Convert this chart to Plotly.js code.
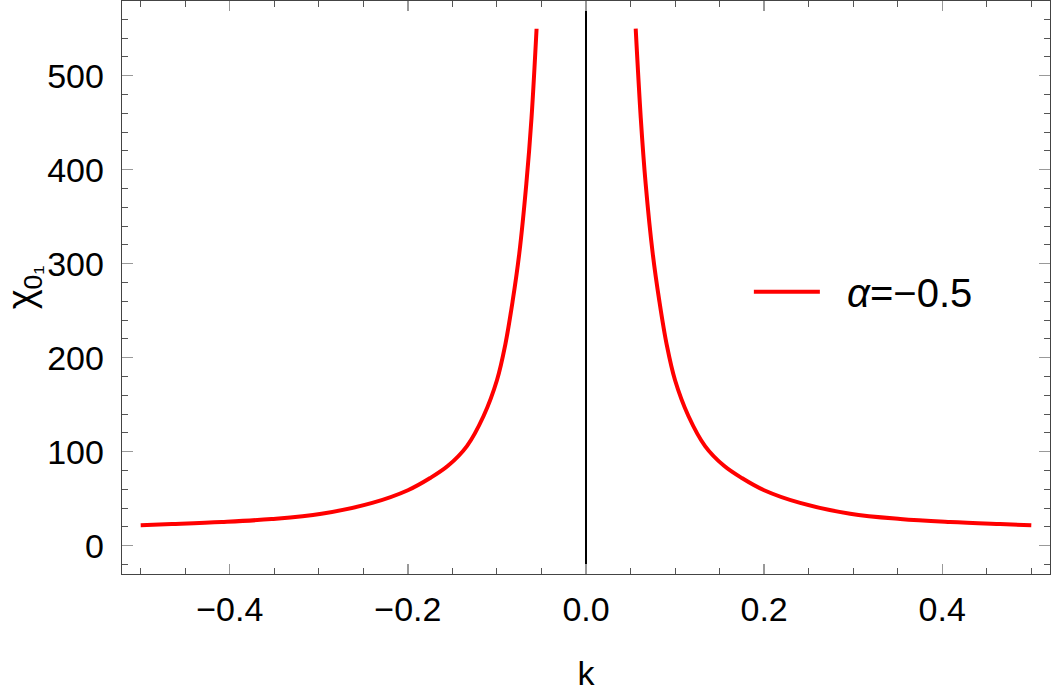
<!DOCTYPE html>
<html>
<head>
<meta charset="utf-8">
<script src="https://cdn.plot.ly/plotly-3.0.1.min.js"></script>
<style>
  html, body { margin: 0; padding: 0; background: #fff; }
  #chart { width: 1054px; height: 692px; }
</style>
</head>
<body>
<div id="chart"></div>
<script>
// values (the two branches are mirror images)
const kLeft = [-0.5, -0.465, -0.409, -0.353, -0.297, -0.24, -0.2, -0.175, -0.155, -0.1337, -0.115, -0.1, -0.0906, -0.0824, -0.0749, -0.067, -0.0612, -0.0555];
const chiLeft = [21.8, 23, 25.2, 28.4, 34, 45.5, 59, 72, 85, 106, 138, 176, 214, 260, 311, 385, 455, 550];

const kRight = [0.0558, 0.0615, 0.067, 0.0749, 0.0824, 0.0906, 0.1, 0.115, 0.1337, 0.155, 0.175, 0.2, 0.2404, 0.2966, 0.3528, 0.409, 0.465, 0.5];
const chiRight = [550, 455, 385, 311, 260, 214, 176, 138, 106, 85, 72, 59, 45.5, 34, 28.4, 25.2, 23, 21.8];

const seriesName = '\u00a0\u00a0<i>α</i>=−0.5';

const font = 'Liberation Sans, Arial, sans-serif';

const traces = [
  {
    x: kLeft, y: chiLeft, mode: 'lines', name: seriesName,
    line: { color: '#ff0000', width: 4, shape: 'spline', smoothing: 1 },
    legendgroup: 'a', showlegend: true
  },
  {
    x: kRight, y: chiRight, mode: 'lines', name: seriesName,
    line: { color: '#ff0000', width: 4, shape: 'spline', smoothing: 1 },
    legendgroup: 'a', showlegend: false
  }
];

const layout = {
  width: 1054,
  height: 692,
  margin: { l: 122, r: 4, t: 1, b: 118 },
  paper_bgcolor: '#fff',
  plot_bgcolor: '#fff',
  font: { family: font, color: '#000', size: 34 },
  showlegend: true,
  legend: {
    x: 0.6755, y: 0.4927, xanchor: 'left', yanchor: 'middle',
    font: { family: font, size: 40, color: '#000' },
    bgcolor: 'rgba(0,0,0,0)', itemwidth: 66
  },
  xaxis: {
    range: [-0.521, 0.521],
    tick0: 0, dtick: 0.2, tickformat: '.1f',
    ticks: 'inside', ticklen: 10, tickcolor: '#999', tickwidth: 1.3,
    minor: { dtick: 0.05, ticks: 'inside', ticklen: 6, tickcolor: '#555', tickwidth: 1 },
    mirror: 'allticks', showline: true, linecolor: '#444', linewidth: 1.3,
    showgrid: false,
    zeroline: true, zerolinecolor: '#000', zerolinewidth: 1.4,
    ticklabelstandoff: 5,
    title: { text: 'k', font: { family: font, size: 34 }, standoff: 40 }
  },
  yaxis: {
    range: [-30.1, 579.5],
    tick0: 0, dtick: 100,
    ticks: 'inside', ticklen: 11, tickcolor: '#999', tickwidth: 1.3,
    minor: { dtick: 20, ticks: 'inside', ticklen: 6, tickcolor: '#555', tickwidth: 1 },
    mirror: 'allticks', showline: true, linecolor: '#444', linewidth: 1.3,
    showgrid: false, zeroline: false,
    ticklabelstandoff: 10,
    title: { text: 'χ<sub>0₁</sub>', font: { family: font, size: 38 }, standoff: 3 }
  }
};

Plotly.newPlot('chart', traces, layout, { displayModeBar: false, staticPlot: true });
</script>
</body>
</html>
